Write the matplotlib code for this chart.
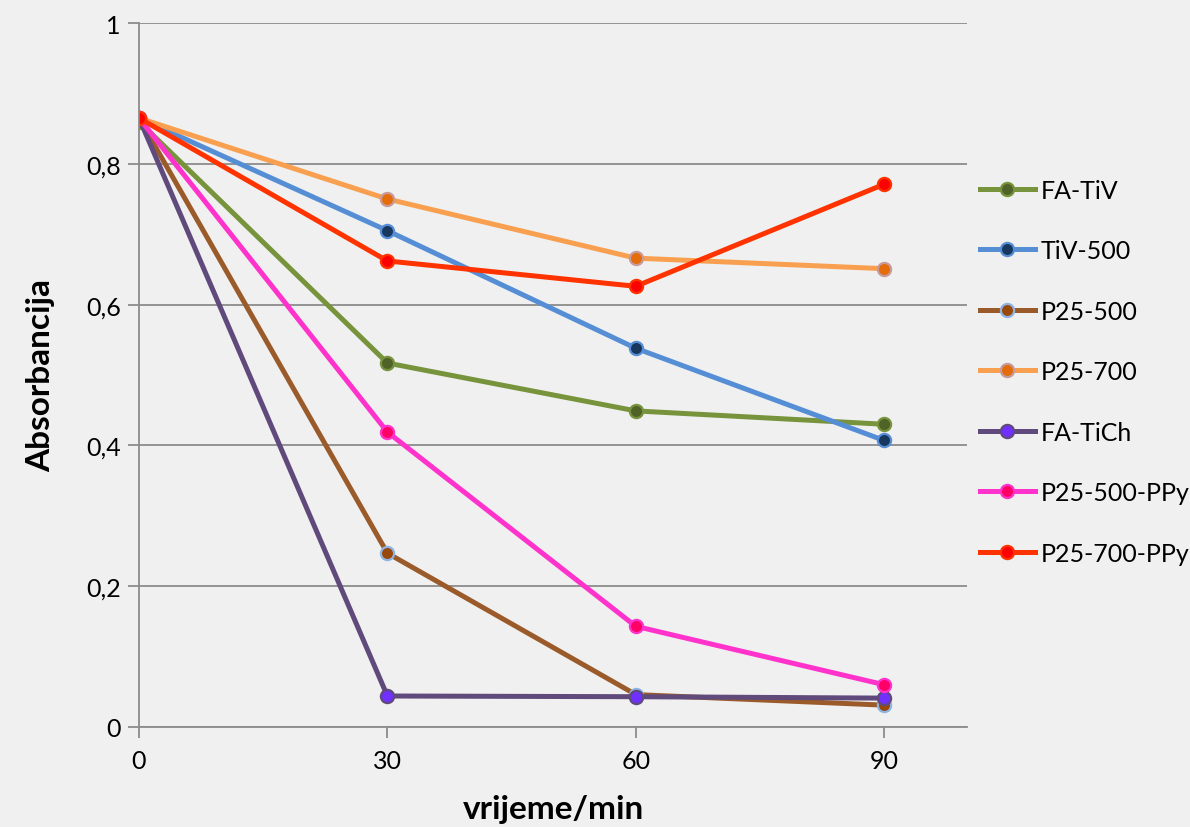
import matplotlib
matplotlib.use("Agg")
from matplotlib import pyplot as plt

plt.rcParams['font.family'] = ['Lato', 'DejaVu Sans']

time_min = [0, 30, 60, 90]

series_names = ["FA-TiV", "TiV-500", "P25-500", "P25-700",
                "FA-TiCh", "P25-500-PPy", "P25-700-PPy"]
fa_tiv = [0.860, 0.517, 0.449, 0.430]
tiv_500 = [0.865, 0.705, 0.538, 0.407]
p25_500 = [0.865, 0.247, 0.046, 0.031]
p25_700 = [0.865, 0.750, 0.666, 0.651]
fa_tich = [0.865, 0.044, 0.043, 0.041]
p25_500_ppy = [0.865, 0.419, 0.143, 0.060]
p25_700_ppy = [0.865, 0.662, 0.626, 0.771]
all_values = [fa_tiv, tiv_500, p25_500, p25_700, fa_tich, p25_500_ppy, p25_700_ppy]

# line colour, marker face, marker edge
styles = [
    ("#77933C", "#4F6228", "#77933C"),
    ("#558ED5", "#17375E", "#558ED5"),
    ("#9B5A2A", "#984807", "#8EB4E3"),
    ("#F9A050", "#E46C0A", "#C89A9A"),
    ("#604A7B", "#7030FF", "#604A7B"),
    ("#FF33CC", "#FF0066", "#FF33CC"),
    ("#FF3300", "#FF0000", "#FF3300"),
]

fig = plt.figure(figsize=(11.9, 8.28), dpi=100)
fig.patch.set_facecolor("#f0f0f0")
ax = fig.add_axes([0.1168, 0.1208, 0.6958, 0.8502])
ax.set_facecolor("none")

for name, vals, (lc, mf, me) in zip(series_names, all_values, styles):
    ax.plot(time_min, vals, color=lc, lw=3.6, marker="o", markersize=9.5,
            markerfacecolor=mf, markeredgecolor=me, markeredgewidth=1.6,
            label=name, solid_joinstyle="round")

ax.set_xlim(0, 100)
ax.set_ylim(0, 1)
ax.set_xticks(time_min)
ax.set_yticks([0, 0.2, 0.4, 0.6, 0.8, 1.0])
ax.set_yticklabels(["0", "0,2", "0,4", "0,6", "0,8", "1"])
ax.yaxis.grid(True, color="#8c8c8c", lw=1.3)
ax.set_axisbelow(True)
for s in ["top", "right"]:
    ax.spines[s].set_visible(False)
for s in ["left", "bottom"]:
    ax.spines[s].set_color("#8c8c8c")
    ax.spines[s].set_linewidth(1.3)
ax.tick_params(axis="both", colors="#8c8c8c", labelcolor="black",
               labelsize=18, length=8, width=1.3, direction="out")
ax.tick_params(axis="x", pad=8)
ax.tick_params(axis="y", pad=5)

ax.set_xlabel("vrijeme/min", fontsize=24, fontweight="bold", labelpad=16)
ax.set_ylabel("Absorbancija", fontsize=24, fontweight="bold", labelpad=22)

fig.legend(loc="upper left", bbox_to_anchor=(0.815, 0.795), frameon=False,
           fontsize=18, handlelength=2.2, handletextpad=0.25,
           labelspacing=1.5, borderaxespad=0)

plt.savefig("out.png", dpi=100, facecolor=fig.get_facecolor())
